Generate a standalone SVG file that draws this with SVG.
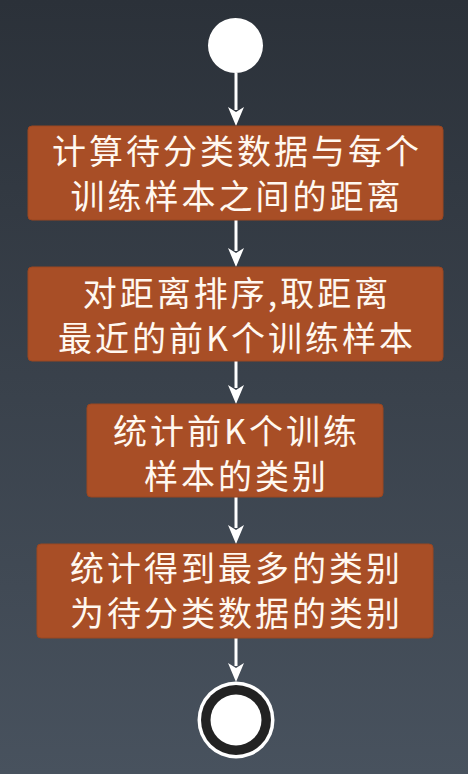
<svg xmlns="http://www.w3.org/2000/svg" width="468" height="774" viewBox="0 0 468 774">
<defs>
<linearGradient id="bg" x1="0" y1="0" x2="0" y2="1">
<stop offset="0" stop-color="#2b3139"/>
<stop offset="1" stop-color="#48525e"/>
</linearGradient>
<style>
.box{fill:#a84e26;stroke:#9a4620;stroke-width:1}
.t{font-family:"Noto Sans CJK SC","Noto Sans",sans-serif;font-size:34px;letter-spacing:3px;fill:#fff8f0;text-anchor:middle}
.c{stroke:#ffffff;stroke-width:3;fill:none}
.ah{fill:#ffffff}
</style>
</defs>
<rect width="468" height="774" fill="url(#bg)"/>
<g id="connectors">
<line class="c" x1="236" y1="73" x2="236" y2="110"/>
<path class="ah" d="M228,107 L236,112 L244,107 L236,126 Z"/>
<line class="c" x1="236" y1="220" x2="236" y2="251"/>
<path class="ah" d="M228,248 L236,253 L244,248 L236,267 Z"/>
<line class="c" x1="236" y1="361" x2="236" y2="388"/>
<path class="ah" d="M228,385 L236,390 L244,385 L236,404 Z"/>
<line class="c" x1="236" y1="497" x2="236" y2="528"/>
<path class="ah" d="M228,525 L236,530 L244,525 L236,544 Z"/>
<line class="c" x1="236" y1="638" x2="236" y2="666"/>
<path class="ah" d="M228,663 L236,668 L244,663 L236,682 Z"/>
</g>
<g id="start">
<circle cx="235.5" cy="45.5" r="27.5" fill="#ffffff"/>
</g>
<g id="step1">
<rect class="box" x="28" y="126" width="415" height="94" rx="4"/>
<text class="t" x="237" y="164">计算待分类数据与每个</text>
<text class="t" x="237" y="209">训练样本之间的距离</text>
</g>
<g id="step2">
<rect class="box" x="28" y="267" width="415" height="94" rx="4"/>
<text class="t" x="237" y="306">对距离排序,取距离</text>
<text class="t" x="237" y="351">最近的前K个训练样本</text>
</g>
<g id="step3">
<rect class="box" x="87" y="404" width="296" height="93" rx="4"/>
<text class="t" x="236.5" y="444">统计前K个训练</text>
<text class="t" x="236.5" y="489">样本的类别</text>
</g>
<g id="step4">
<rect class="box" x="37" y="544" width="396" height="94" rx="4"/>
<text class="t" x="236.5" y="581">统计得到最多的类别</text>
<text class="t" x="236.5" y="626">为待分类数据的类别</text>
</g>
<g id="end">
<circle cx="236" cy="720" r="38.5" fill="#ffffff"/>
<circle cx="236" cy="720" r="35" fill="#222222"/>
<circle cx="236" cy="720" r="25.5" fill="#ffffff"/>
</g>
</svg>
